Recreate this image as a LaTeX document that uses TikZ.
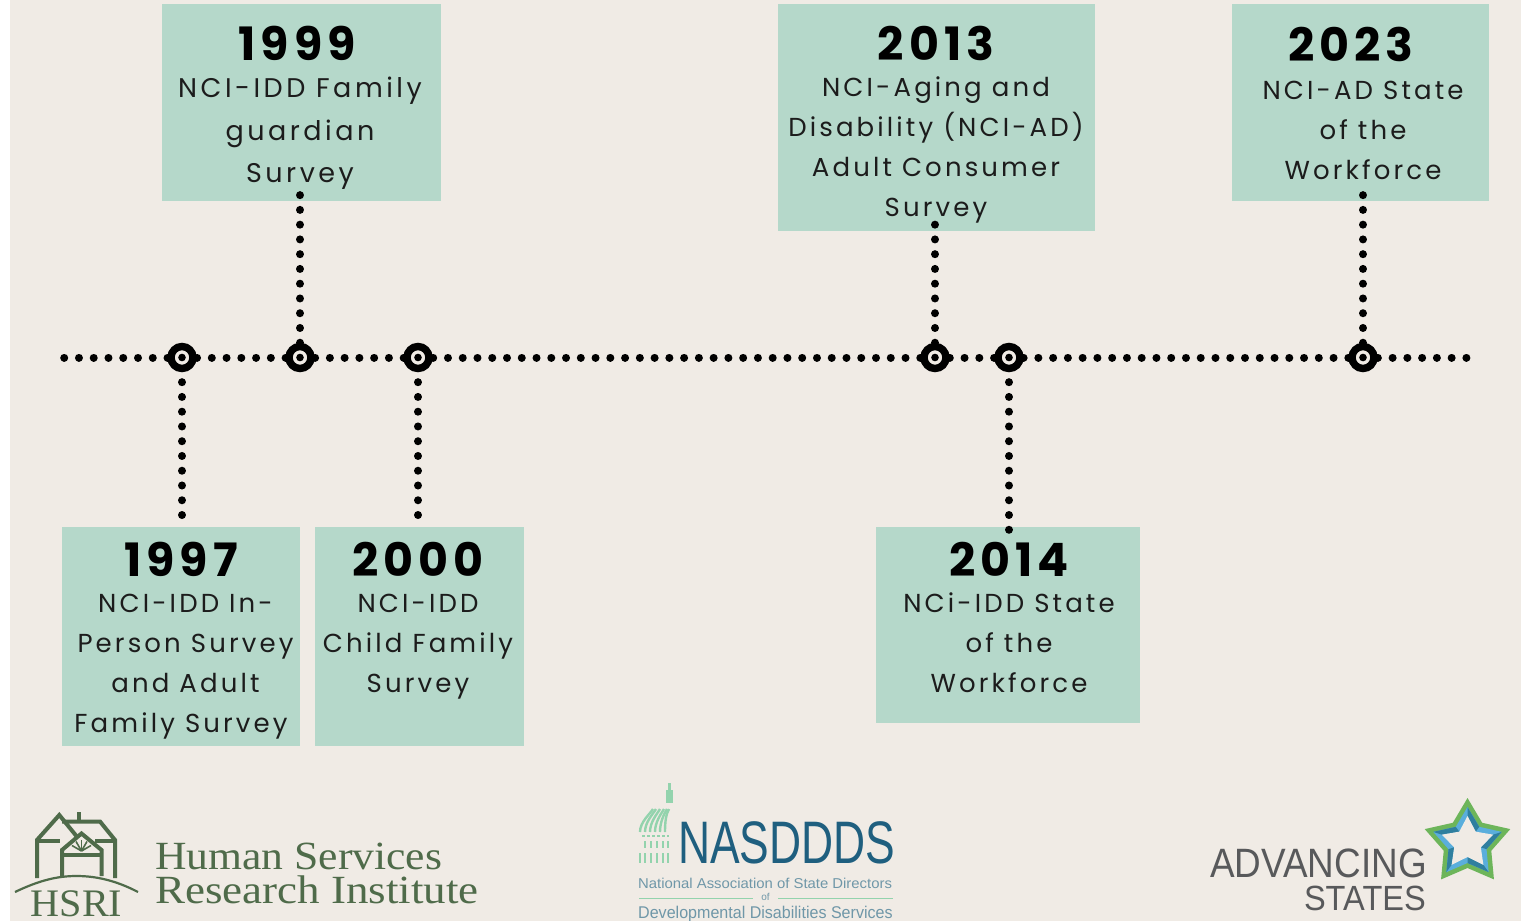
\documentclass[tikz,border=0pt]{standalone}
\usepackage{fontspec}
\usepackage{graphicx}
\usetikzlibrary{calc}
\newfontfamily\bodyfont[LetterSpace=12]{Poppins}
\newfontfamily\bodyfontA[LetterSpace=13]{Poppins}
\newfontfamily\yearfont[LetterSpace=11]{Poppins}
\newfontfamily\serifhs{Liberation Serif}
\newfontfamily\sanslogo{Liberation Sans}
\definecolor{bgc}{HTML}{F0EBE5}
\definecolor{boxc}{HTML}{B5D8CA}
\definecolor{bodyc}{HTML}{1C1C1C}
\definecolor{hsri}{HTML}{4F6B4A}
\definecolor{nasblue}{HTML}{1F5F7F}
\definecolor{nasgrey}{HTML}{6F97A8}
\definecolor{nasgreen}{HTML}{93D3AD}
\definecolor{advgrey}{HTML}{58595B}
\definecolor{stargreen}{HTML}{6DB55A}
\definecolor{starblue}{HTML}{5AAEDC}
\definecolor{stardark}{HTML}{2F7F9F}
\pgfdeclarelayer{front}
\pgfsetlayers{main,front}
\tikzset{
  x=1pt,y=-1pt,
  boxnode/.style={fill=boxc,inner sep=0,anchor=north west},
  yearnode/.style={inner sep=0,font=\yearfont\bfseries\fontsize{46}{46}\selectfont},
  bodyA/.style={inner sep=0,align=center,text=bodyc,font=\bodyfontA\fontsize{27}{42.5}\selectfont},
  bodyB/.style={inner sep=0,align=center,text=bodyc,font=\bodyfont\fontsize{26}{40}\selectfont},
  dotline/.style={line width=8pt,line cap=round,dash pattern=on 0.01pt off 14.75pt,black},
  dotdown/.style={dotline,dash phase=4.85pt},
  milestone/.style={circle,inner sep=0,minimum size=22pt,line width=7.4pt,draw=black,fill=bgc,
    path picture={\fill[black] (path picture bounding box.center) circle (3.8pt);}},
  hsriline/.style={draw=hsri,line width=4pt,line join=miter},
  hsrithin/.style={draw=hsri,line width=1.6pt},
  nasrib/.style={draw=nasgreen,line width=2.4pt},
}
\newcommand{\boxat}[5]{\node[boxnode,minimum width=#4pt,minimum height=#5pt] (#1) at (#2,#3) {};}
\begin{document}
\begin{tikzpicture}
\useasboundingbox (0,0) rectangle (1521,921);
\fill[white] (0,0) rectangle (1521,921);
\fill[bgc] (10,0) rectangle (1521,921);

% boxes
\boxat{b1999}{162}{4}{278.5}{196.5}
\boxat{b2013}{778}{4}{317}{226.5}
\boxat{b2023}{1232}{4}{256.5}{196.5}
\boxat{b1997}{61.5}{527}{238.5}{218.5}
\boxat{b2000}{315}{527}{209}{218.5}
\boxat{b2014}{876}{527}{264}{195.5}

% box texts
\node[yearnode] (y1999) at (297,43) {1999};
\node[bodyA] (t1999) at (300,133.5) {NCI-IDD Family\\guardian\\Survey};
\node[yearnode] (y2013) at (936,43) {2013};
\node[bodyB] (t2013) at (936,150) {NCI-Aging and\\Disability (NCI-AD)\\Adult Consumer\\Survey};
\node[yearnode] (y2023) at (1351,44) {2023};
\node[bodyB] (t2023) at (1363,130) {NCI-AD State\\of the\\Workforce};
\node[yearnode] (y1997) at (181,559) {1997};
\node[bodyB] (t1997) at (185.5,667) {NCI-IDD In-\\Person Survey\\and Adult\\Family Survey\kern9pt};
\node[yearnode] (y2000) at (418,559) {2000};
\node[bodyB] (t2000) at (418,647) {NCI-IDD\\Child Family\\Survey};
\node[yearnode] (y2014) at (1009,559) {2014};
\node[bodyB] (t2014) at (1009,643) {NCi-IDD State\\of the\\Workforce};

% milestones
\begin{pgfonlayer}{front}
\node[milestone] (m1997) at (182,357.5) {};
\node[milestone] (m1999) at (300,357.5) {};
\node[milestone] (m2000) at (418,357.5) {};
\node[milestone] (m2013) at (935,357.5) {};
\node[milestone] (m2014) at (1009,357.5) {};
\node[milestone] (m2023) at (1363,357.5) {};
\end{pgfonlayer}

% axis
\coordinate (axisL) at (64.2,357.5);
\coordinate (axisR) at (1471,357.5);
\draw[dotline] (axisL) -- (axisR);

% connectors
\draw[dotline] (m1999.center) -- ($(m1999 |- b1999.south)+(0,-6)$);
\draw[dotline] (m2013.center) -- ($(m2013 |- b2013.south)+(0,-8)$);
\draw[dotline] (m2023.center) -- ($(m2023 |- b2023.south)+(0,-10)$);
\draw[dotdown] (m1997.center) -- (m1997 |- b1997.north);
\draw[dotdown] (m2000.center) -- (m2000 |- b2000.north);
\draw[dotdown] (m2014.center) -- ($(m2014 |- b2014.north)+(0,4)$);

% HSRI logo
\draw[hsriline] (37,878) -- (37,840) -- (59.3,815) -- (78,838);
\draw[hsriline] (37,840.5) -- (60,840.5);
\draw[hsriline] (62,821.5) -- (100,821.5) -- (115,840) -- (115,878);
\draw[hsriline] (95,840.5) -- (115,840.5);
\draw[hsriline] (79,812) -- (79,822);
\draw[hsriline] (62,876) -- (62,850) -- (81.5,833.5) -- (101.5,850) -- (101.5,876);
\draw[hsriline] (62,855) -- (101.5,855);
\foreach \a in {30,60,90,120,150}{
  \draw[hsrithin] (81.5,851) -- ++({11*cos(\a)},{-11*sin(\a)});
}
\draw[draw=hsri,line width=2.2pt] (15,892) .. controls (40,880) and (58,876) .. (76.5,876) .. controls (95,876) and (115,880) .. (138,892);
\node[inner sep=0,text=hsri] (hsriabbr) at (76.5,904) {\scalebox{1.03}[1]{\serifhs\fontsize{39}{39}\selectfont HSRI}};
\node[inner sep=0,anchor=base west,text=hsri] (hsrihuman) at (155,869) {\scalebox{1.09}[1]{\serifhs\fontsize{40}{40}\selectfont Human Services}};
\node[inner sep=0,anchor=base west,text=hsri] (hsriresearch) at (155,903) {\scalebox{1.125}[1]{\serifhs\fontsize{40}{40}\selectfont Research Institute}};

% NASDDDS logo
\draw[draw=nasgreen,line width=3pt] (669.5,783) -- (669.5,790);
\fill[nasgreen] (666,790) rectangle (673,803);
\foreach \xa/\xb in {640/653,645/656,650/660,655/664,660/667,665/669}{
  \draw[nasrib] (\xa,832) .. controls (\xa,822) and ({\xb-3},814) .. (\xb,809);
}
\draw[draw=nasgreen,line width=2pt,dash pattern=on 2.5pt off 2.5pt] (642,836) -- (669,836);
\foreach \x in {645,651,657,663,668}{\draw[nasrib] (\x,841) -- (\x,848);}
\foreach \x in {640,645,651,657,663,668}{\draw[nasrib] (\x,853) -- (\x,863);}
\node[inner sep=0,anchor=base west,text=nasblue] (nasname) at (678,863) {\scalebox{0.74}[1]{\sanslogo\fontsize{60}{60}\selectfont NASDDDS}};
\node[inner sep=0,anchor=west,text=nasgrey] (nasl2) at (638,883) {\scalebox{1.04}[1]{\sanslogo\fontsize{14.3}{14}\selectfont National Association of State Directors}};
\draw[draw=nasgreen,line width=1pt] (639,898) -- (753,898) (778,898) -- (893,898);
\node[inner sep=0,text=nasgrey,font=\sanslogo\fontsize{10}{10}\selectfont] (nasof) at (765.5,897) {of};
\node[inner sep=0,anchor=west,text=nasgrey] (nasl3) at (638,914.5) {\scalebox{0.945}[1]{\sanslogo\fontsize{17}{17}\selectfont Developmental Disabilities Services}};

% Advancing States logo
\def\starpath#1#2{(\StarC) ++(90:#1)
  -- ($(\StarC)+(54:#2)$) -- ($(\StarC)+(18:#1)$) -- ($(\StarC)+(-18:#2)$) -- ($(\StarC)+(-54:#1)$)
  -- ($(\StarC)+(-90:#2)$) -- ($(\StarC)+(-126:#1)$) -- ($(\StarC)+(-162:#2)$) -- ($(\StarC)+(162:#1)$)
  -- ($(\StarC)+(126:#2)$) -- cycle}
\begin{scope}[y=1pt]
\coordinate (StarC) at (1467.5,-843);
\def\StarC{StarC}
\fill[stargreen] \starpath{45}{25};
\fill[starblue] \starpath{36}{20};
\foreach \a in {90,18,-54,-126,-198}{
  \fill[stardark] ($(StarC)+(\a:36)$) -- ($(StarC)+(\a-36:20)$) -- ($(StarC)+(\a-36:14)$) -- ($(StarC)+(\a:27)$) -- cycle;
}
\fill[bgc] \starpath{27}{14};
\end{scope}
\node[inner sep=0,anchor=base east,text=advgrey] (advname) at (1427,877) {\scalebox{0.90}[1]{\sanslogo\fontsize{41}{41}\selectfont ADVANCING}};
\node[inner sep=0,anchor=base east,text=advgrey] (advstates) at (1426,910) {\scalebox{0.93}[1]{\sanslogo\fontsize{35}{35}\selectfont STATES}};
\end{tikzpicture}
\end{document}
